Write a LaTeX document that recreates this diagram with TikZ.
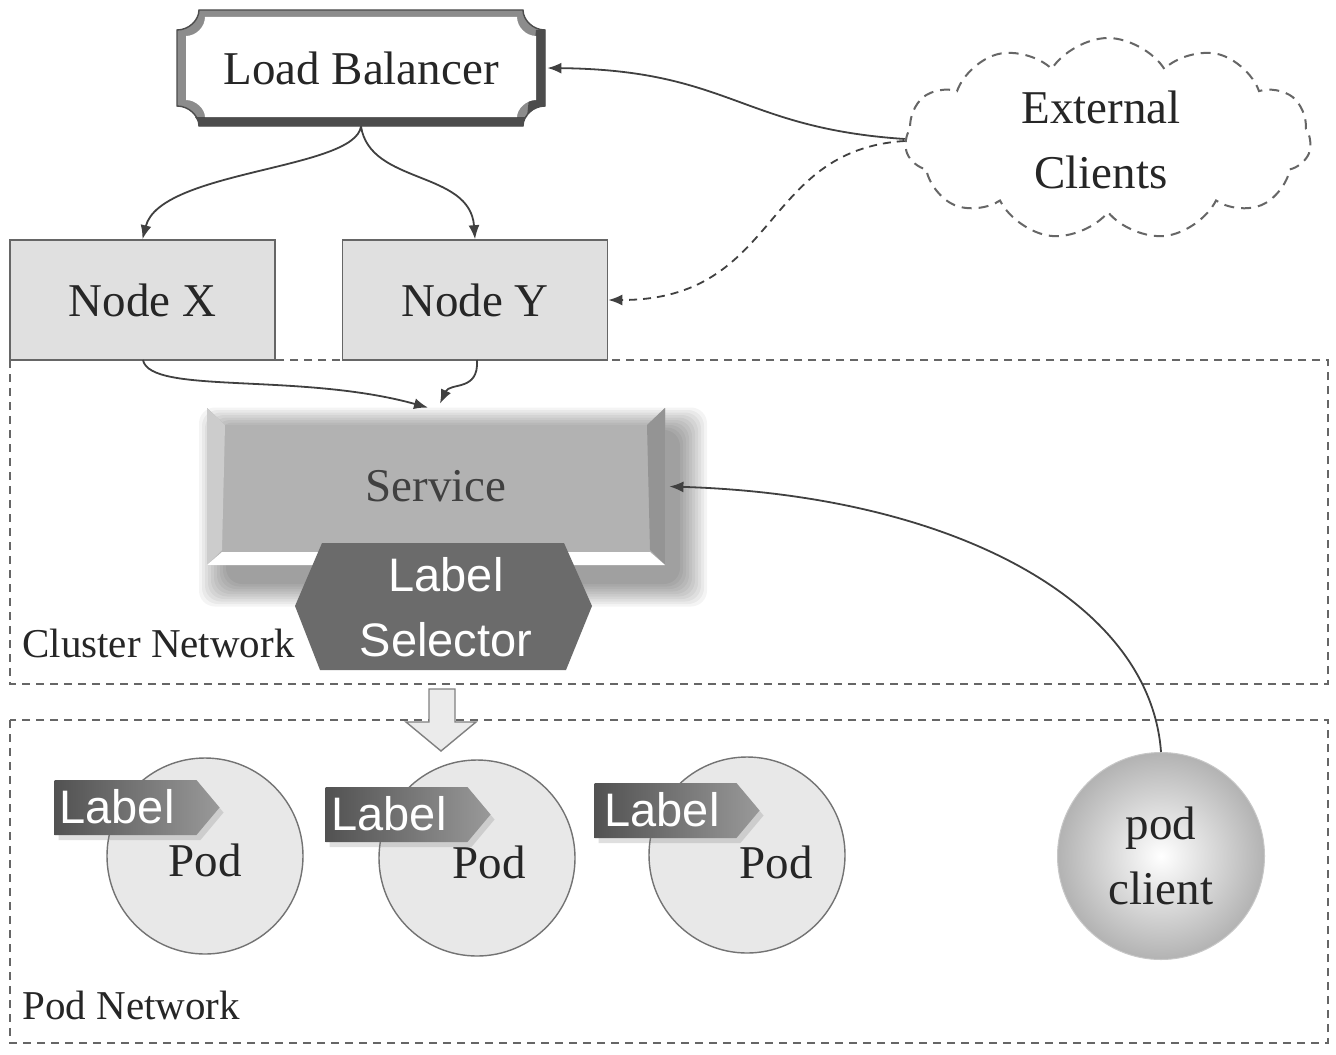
\documentclass[tikz,border=0pt]{standalone}
\usepackage{fontspec}
\setmainfont{Liberation Serif}
\newfontfamily\labelfont{Liberation Sans}
\usetikzlibrary{shapes.symbols,shapes.geometric,shapes.misc,arrows.meta,shadows}
\begin{document}
\begin{tikzpicture}[x=0.5pt,y=-0.5pt,
  txt/.style={font=\fontsize{23.5}{32.5}\selectfont, text=black!85, align=center, inner sep=0pt},
  nettxt/.style={font=\fontsize{20.5}{24}\selectfont, text=black!85, inner sep=0pt},
  sanstxt/.style={font=\labelfont\fontsize{23.5}{32.5}\selectfont, text=white, align=center, inner sep=0pt},
  hostbox/.style={draw=black!60, fill=black!12, line width=0.8pt, minimum width=132.5pt, minimum height=60pt, txt},
  netbox/.style={draw=black!60, dash pattern=on 4pt off 3pt, line width=0.7pt},
  conn/.style={draw=black!75, line width=0.9pt, -{Latex[length=7pt,width=5.5pt]}},
  dconn/.style={conn, dash pattern=on 4pt off 3pt},
  podc/.style={circle, draw=black!55, fill=black!9, minimum size=98pt, line width=0.7pt, inner sep=0pt},
  tag/.style={signal, signal to=east, signal pointer angle=100, minimum width=82.5pt, minimum height=27.5pt,
    left color=black!68, right color=black!40, draw=none, inner sep=0pt,
    drop shadow={shadow xshift=2pt, shadow yshift=-2.5pt, opacity=0.25}},
]
\useasboundingbox[fill=white] (0,0) rectangle (1336,1054);

% networks
\draw[netbox] (10,360) rectangle (1328,684);
\draw[netbox] (10,720) rectangle (1328,1043);
\node[nettxt, anchor=base west] (cnet) at (22,657) {Cluster Network};
\node[nettxt, anchor=base west] (pnet) at (22,1019) {Pod Network};

% load balancer plaque
\fill[black!45] (177,30) .. controls (189,30) and (199,20) .. (199,10) -- (523,10)
  .. controls (523,20) and (533,30) .. (545,30) -- (545,106)
  .. controls (533,106) and (523,116) .. (523,126) -- (199,126)
  .. controls (199,116) and (189,106) .. (177,106) -- cycle;
\fill[black!70] (545,30) -- (545,106) .. controls (533,106) and (523,116) .. (523,126) -- (199,126)
  .. controls (199,122) and (197,119) .. (195,117) -- (527,117) -- (536,30) -- cycle;
\draw[black!70, line width=0.7pt] (177,30) .. controls (189,30) and (199,20) .. (199,10) -- (523,10)
  .. controls (523,20) and (533,30) .. (545,30) -- (545,106)
  .. controls (533,106) and (523,116) .. (523,126) -- (199,126)
  .. controls (199,116) and (189,106) .. (177,106) -- cycle;
\fill[white] (186,36) .. controls (196,36) and (205,27) .. (205,17) -- (517,17)
  .. controls (517,27) and (526,36) .. (536,36) -- (536,100)
  .. controls (526,100) and (517,109) .. (517,117) -- (205,117)
  .. controls (205,109) and (196,100) .. (186,100) -- cycle;
\node[txt, minimum width=184pt, minimum height=58pt] (lb) at (361,68) {Load Balancer};

% external clients cloud
\node[cloud, cloud puffs=11, cloud puff arc=115, cloud ignores aspect, draw=black!60,
  dash pattern=on 5pt off 3.5pt, line width=1pt, minimum width=203pt, minimum height=101pt,
  txt] (cl) at (1108,139) {};
\node[txt] (clt) at (1101,140) {External\\Clients};

% hosts
\node[hostbox] (nx) at (142.5,300) {Node X};
\node[hostbox] (ny) at (475,300) {Node Y};

% service shadow
\foreach \k in {0,...,9}
  \fill[black, opacity=0.045, rounded corners=8pt] (226-3*\k,430-2.5*\k) rectangle (680+3*\k,584+2.5*\k);
% service body
\fill[black!30] (207,408) -- (225,425) -- (647,425) -- (665,408) -- (665,565) -- (207,565) -- cycle;
\fill[black!20] (207,408) -- (225,425) -- (222,550) -- (207,565) -- cycle;
\fill[black!42] (665,408) -- (647,425) -- (650,550) -- (665,565) -- cycle;
\fill[white] (207,565) -- (222,552) -- (650,552) -- (665,565) -- cycle;
\node[txt, text=black!75, minimum width=229pt, minimum height=78.5pt] (svc) at (436,486.5) {Service};

% label selector
\fill[black!58] (322,543) -- (564,543) -- (592,606) -- (566,670) -- (320,670) -- (295,606) -- cycle;
\node[sanstxt] (sel) at (446,607) {Label\\Selector};

% down arrow
\draw[black!50, fill=black!8, line width=0.7pt] (429,689) -- (455,689) -- (455,722) -- (476,722)
  -- (441,751) -- (406,722) -- (429,722) -- cycle;

% pods
\node[podc] (p1) at (205,856) {};
\node[podc] (p2) at (477,858) {};
\node[podc] (p3) at (747,855) {};
\node[txt] (p1t) at (205,860) {Pod};
\node[txt] (p2t) at (489,862) {Pod};
\node[txt] (p3t) at (776,862) {Pod};
\node[tag] (t1) at (125.5,807.5) {};
\node[tag] (t2) at (396.5,814.5) {};
\node[tag] (t3) at (665.5,810.5) {};
\node[sanstxt] (t1t) at (117,807) {Label};
\node[sanstxt] (t2t) at (389,814) {Label};
\node[sanstxt] (t3t) at (662,810) {Label};

% pod client
\node[circle, minimum size=103.5pt, inner color=white, outer color=black!30, draw=black!22,
  line width=0.5pt, txt] (pc) at (1161,856) {pod\\client};

% connectors
\draw[conn] (lb.south) .. controls (355,170) and (160,170) .. (nx.north);
\draw[conn] (lb.south) .. controls (370,185) and (470,170) .. (ny.north);
\draw[conn] (cl.west) .. controls (740,128) and (730,70) .. ([xshift=1pt]lb.east);
\draw[dconn] ([yshift=-1pt]cl.west) .. controls (760,150) and (780,300) .. (ny.east);
\draw[conn] (143,360) .. controls (150,395) and (300,372) .. ([xshift=-4pt]svc.north);
\draw[conn] (477,360) .. controls (479,392) and (450,382) .. ([xshift=2pt,yshift=2pt]svc.north);
\draw[conn] (pc.north) .. controls (1150,600) and (950,495) .. ([xshift=2pt]svc.east);
\end{tikzpicture}
\end{document}
